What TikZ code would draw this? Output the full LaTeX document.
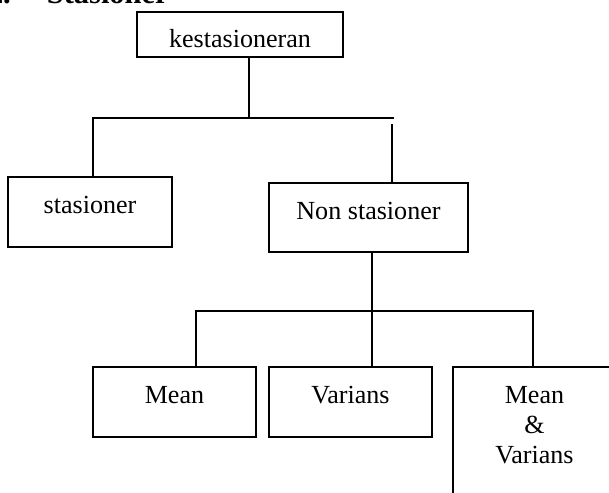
\documentclass[tikz,border=0pt]{standalone}
\usepackage{fontspec}
\setmainfont{Liberation Serif}
\usetikzlibrary{positioning, calc}
\tikzset{
  every picture/.style={font=\fontsize{12}{13.8}\selectfont, line width=0.7pt},
  box/.style={draw, align=center, inner sep=0pt, anchor=base, minimum width=#1, text height=16.6pt, text depth=15.6pt},
  box/.default=75pt,
  link/.style={draw, line cap=rect},
  title/.style={font=\fontsize{14}{16}\selectfont\bfseries, anchor=base west},
}

\begin{document}
\begin{tikzpicture}[x=0.46pt, y=-0.46pt]
  \useasboundingbox (0,0) rectangle (609,492);
  \node[title] (ttl) at (-20,3.5) {2.\hspace{16.6pt}Stasioner};
  % level one
  \node[box=94.8pt, text height=16.1pt, text depth=4.6pt] (kest) at (240,47) {kestasioneran};
  \node[box=75.4pt] (stas) at (90,213) {stasioner};
  \node[box=91.5pt, text depth=15.2pt] (nons) at (368.5,219) {Non stasioner};
  % level two
  \node[box] (mean) at (174.5,403) {Mean};
  \node[box] (var) at (350.5,403) {Varians};
  \node[box, text height=44.2pt, text depth=30pt] (mv) at (534.5,463) {Mean\\\&\\Varians};
  % junctions
  \coordinate (j1) at (249,118);
  \coordinate (j1l) at (93,118);
  \coordinate (j1r) at (393,118);
  \coordinate (gap) at (392,125);
  \coordinate (j2) at (372,311);
  \coordinate (j2l) at (196,311);
  \coordinate (j2r) at (533,311);
  \draw[link] (kest.south -| j1) -- (j1);
  \draw[link] (j1l) -- (j1r);
  \draw[link] (j1l) -- (j1l |- stas.north);
  \draw[link] (gap) -- (gap |- nons.north);
  \draw[link] (nons.south -| j2) -- (j2);
  \draw[link] (j2l) -- (j2r);
  \foreach \n/\c in {mean/j2l, var/j2, mv/j2r}
    \draw[link] (\c) -- (\c |- \n.north);
\end{tikzpicture}
\end{document}
